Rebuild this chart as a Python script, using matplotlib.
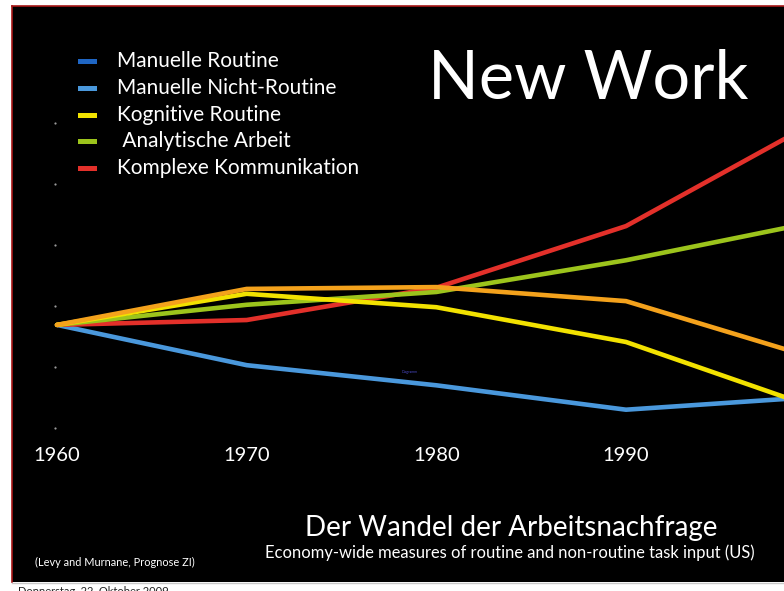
import matplotlib
matplotlib.use("Agg")
import matplotlib.pyplot as plt
from matplotlib.lines import Line2D

# ---- data ----
years = [1960, 1970, 1980, 1990, 2000]
manuelle_routine = [46.9, 52.8, 53.1, 50.8, 41.4]        # orange line in the chart
manuelle_nicht_routine = [46.9, 40.3, 37.0, 33.0, 35.1]
kognitive_routine = [46.9, 52.0, 49.8, 44.1, 33.3]
analytische_arbeit = [46.9, 50.2, 52.3, 57.5, 63.8]
komplexe_kommunikation = [46.9, 47.7, 53.0, 63.1, 80.2]
year_labels = ["1960", "1970", "1980", "1990"]
ytick_vals = [30, 40, 50, 60, 70, 80]

legend_labels = ["Manuelle Routine", "Manuelle Nicht-Routine", "Kognitive Routine",
                 " Analytische Arbeit", "Komplexe Kommunikation"]
legend_colors = ["#1f66c4", "#4a98dc", "#f2e200", "#9cc41c", "#e3302a"]

W, H = 784, 591
fig = plt.figure(figsize=(W / 100, H / 100), dpi=100, facecolor="white")

def fx(px):
    return px / W

def fy(py):
    return 1 - py / H

FONT = ["Lato", "DejaVu Sans"]

# slide area
left_px, right_px, top_px, bot_px = 12, 784, 6, 582
ax = fig.add_axes([fx(left_px), fy(bot_px), fx(right_px) - fx(left_px), fy(top_px) - fy(bot_px)])
ax.set_facecolor("black")
for s in ax.spines.values():
    s.set_visible(False)
ax.set_xticks([])
ax.set_yticks([])

# data mapping: 1960 at px 57, 10 years = 189.7 px ; 10 units = 61 px, value 30 at py 428
px_per_year = 18.967
ax.set_xlim(1960 - (57 - left_px) / px_per_year, 1960 + (right_px - 57) / px_per_year)
units_per_px = 10 / 61
ax.set_ylim(30 + (428 - bot_px) * units_per_px, 30 + (428 - top_px) * units_per_px)

lw = 3.3
ax.plot(years, manuelle_nicht_routine, color="#4a98dc", lw=lw, solid_capstyle="round", zorder=3)
ax.plot(years, komplexe_kommunikation, color="#e3302a", lw=lw, solid_capstyle="round", zorder=4)
ax.plot(years, analytische_arbeit, color="#9cc41c", lw=lw, solid_capstyle="round", zorder=4)
ax.plot(years, kognitive_routine, color="#f2e200", lw=lw, solid_capstyle="round", zorder=5)
ax.plot(years, manuelle_routine, color="#f4a21c", lw=lw, solid_capstyle="round", zorder=6)

# small gray y tick dots
ax.plot([1959.9] * len(ytick_vals), ytick_vals, "o", ms=1.6, color="#9a9a9a", mec="none", zorder=2)

# year labels
for lab in year_labels:
    ax.text(float(lab), 30 + (428 - 456) * units_per_px, lab, color="white", fontsize=14.5,
            family=FONT, ha="center", va="center", zorder=7)

# tiny blue label in the chart
ax.text(1978.6, 30 + (428 - 372) * units_per_px, "Diagramm", color="#4a4ac8", fontsize=2.5,
        family=FONT, ha="center", va="center")

# legend
for i, (lab, col) in enumerate(zip(legend_labels, legend_colors)):
    y = 61 + i * 26.8
    fig.add_artist(Line2D([fx(80), fx(94)], [fy(y), fy(y)], color=col, lw=3.6,
                          transform=fig.transFigure))
    fig.text(fx(117), fy(y), lab, color="white", fontsize=15, family=FONT,
             ha="left", va="center")

# titles
fig.text(fx(588), fy(80), "New Work", color="white", fontsize=48, family=FONT,
         ha="center", va="center")
fig.text(fx(511), fy(528), "Der Wandel der Arbeitsnachfrage", color="white", fontsize=20,
         family=FONT, ha="center", va="center")
fig.text(fx(510), fy(553), "Economy-wide measures of routine and non-routine task input (US)",
         color="white", fontsize=11.9, family=FONT, ha="center", va="center")
fig.text(fx(35), fy(562), "(Levy and Murnane, Prognose ZI)", color="white", fontsize=7.9,
         family=FONT, ha="left", va="center")

# slide border
fig.add_artist(Line2D([fx(left_px), fx(W)], [fy(top_px), fy(top_px)], color="#a81818", lw=1.2,
                      transform=fig.transFigure))
fig.add_artist(Line2D([fx(left_px), fx(left_px)], [fy(top_px), fy(bot_px)], color="#a81818", lw=1.2,
                      transform=fig.transFigure))
fig.add_artist(Line2D([fx(left_px), fx(W)], [fy(bot_px + 1), fy(bot_px + 1)], color="#c8c8c8", lw=1,
                      transform=fig.transFigure))

# cut-off date line at the bottom (cut off in the reference too)
fig.text(fx(18), fy(586), "Donnerstag, 22. Oktober 2009", color="#222222", fontsize=8,
         family=FONT, ha="left", va="top")

fig.savefig("out.png", dpi=100, facecolor="white")
